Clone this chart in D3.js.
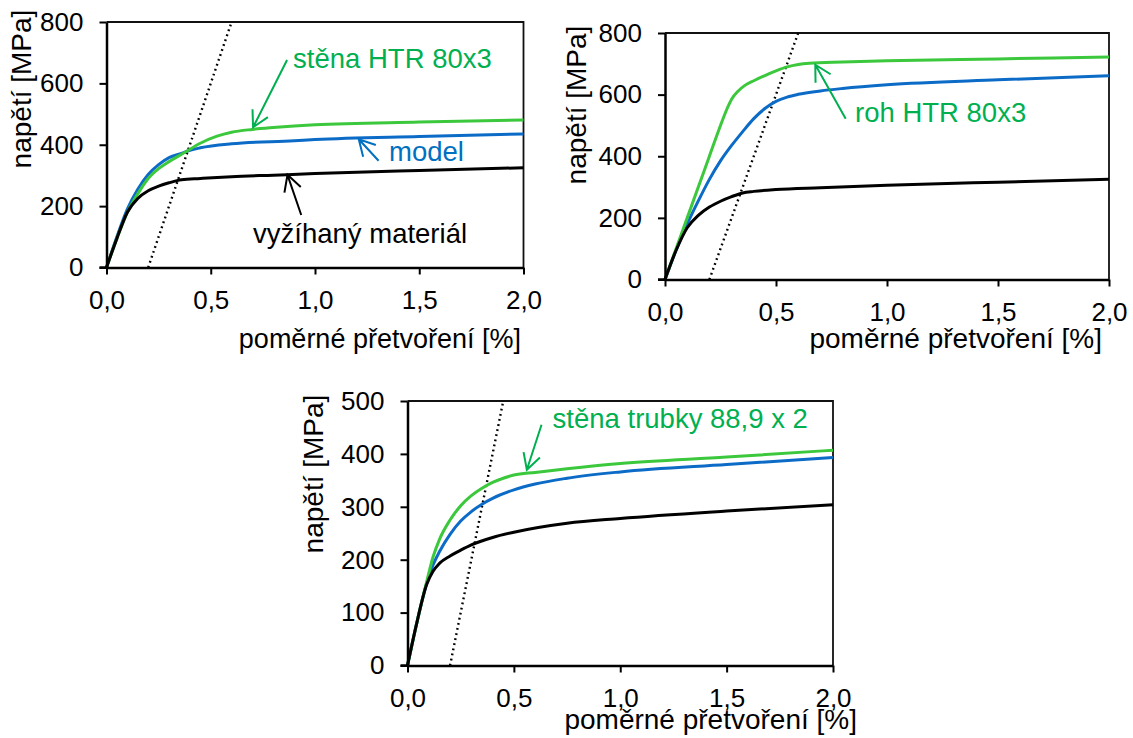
<!DOCTYPE html>
<html>
<head>
<meta charset="utf-8">
<script src="https://cdn.jsdelivr.net/npm/d3@7"></script>
<style>
  html, body { margin: 0; padding: 0; background: #fff; }
  svg { display: block; }
  text { font-family: "Liberation Sans", Arial, Helvetica, sans-serif; fill: #000; }
</style>
</head>
<body>
<svg id="fig" width="1133" height="738"></svg>
<script>
// ---- data -------------------------------------------------------------
// axis ticks
const xTicks = [0, 0.5, 1.0, 1.5, 2.0];
const yTicks800 = [0, 200, 400, 600, 800];
const yTicks500 = [0, 100, 200, 300, 400, 500];

// panel A: stěna HTR 80x3
const strainA_black = [0, 0.05, 0.1, 0.15, 0.2, 0.25, 0.3, 0.36, 0.45, 0.6, 0.8, 1.0, 1.5, 2.0];
const stressA_black = [0, 95, 180, 225, 250, 265, 276, 286, 290, 296, 301, 306, 316, 325];
const strainA_blue  = [0, 0.05, 0.1, 0.15, 0.2, 0.25, 0.3, 0.36, 0.4, 0.45, 0.6, 0.9, 1.0, 1.5, 2.0];
const stressA_blue  = [0, 100, 190, 255, 303, 335, 358, 372, 382, 390, 403, 413, 417, 427, 435];
const strainA_green = [0, 0.05, 0.1, 0.15, 0.2, 0.25, 0.3, 0.37, 0.45, 0.53, 0.6, 0.7, 0.8, 0.9, 1.0, 1.5, 2.0];
const stressA_green = [0, 95, 180, 240, 290, 322, 345, 373, 405, 428, 441, 450, 456, 461, 465, 474, 481];
const offsetA = [[0.2, 0], [0.6, 800]];

// panel B: roh HTR 80x3
const strainB_black = [0, 0.05, 0.1, 0.15, 0.2, 0.25, 0.3, 0.35, 0.4, 0.5, 0.7, 1.0, 1.5, 2.0];
const stressB_black = [0, 95, 168, 208, 235, 254, 269, 281, 286, 292, 298, 306, 316, 325];
const strainB_blue  = [0, 0.05, 0.1, 0.15, 0.2, 0.25, 0.3, 0.35, 0.4, 0.45, 0.5, 0.55, 0.6, 0.7, 0.8, 1.0, 1.5, 2.0];
const stressB_blue  = [0, 95, 180, 255, 325, 385, 435, 480, 522, 555, 578, 592, 601, 612, 620, 632, 648, 661];
const strainB_green = [0, 0.05, 0.1, 0.15, 0.2, 0.25, 0.28, 0.3, 0.33, 0.36, 0.4, 0.45, 0.5, 0.55, 0.6, 0.65, 0.8, 1.0, 1.5, 2.0];
const stressB_green = [0, 100, 200, 300, 400, 500, 555, 585, 612, 630, 645, 662, 677, 690, 698, 702, 706, 710, 716, 722];
const offsetB = [[0.2, 0], [0.6, 800]];

// panel C: stěna trubky 88,9 x 2
const strainC_black = [0, 0.04, 0.09, 0.12, 0.15, 0.2, 0.25, 0.3, 0.4, 0.5, 0.75, 1.0, 1.5, 2.0];
const stressC_black = [0, 74, 153, 178, 193, 207, 218, 228, 242, 252, 269, 278, 292, 304];
const strainC_blue  = [0, 0.04, 0.09, 0.12, 0.15, 0.2, 0.25, 0.3, 0.35, 0.4, 0.5, 0.6, 0.75, 1.0, 1.5, 2.0];
const stressC_blue  = [0, 74, 155, 190, 215, 248, 273, 291, 305, 316, 332, 343, 354, 366, 380, 393];
const strainC_green = [0, 0.04, 0.09, 0.12, 0.15, 0.2, 0.25, 0.3, 0.35, 0.4, 0.45, 0.5, 0.6, 0.75, 1.0, 1.5, 2.0];
const stressC_green = [0, 74, 158, 205, 238, 275, 302, 321, 335, 346, 354, 360, 365, 372, 382, 394, 407];
const offsetC = [[0.2, 0], [0.45, 500]];

// text labels
const xTitle = "poměrné přetvoření [%]";
const yTitle = "napětí [MPa]";

// ---- styles -----------------------------------------------------------
const COL_BLACK = "#000000";
const COL_BLUE = "#0b6bc6";
const COL_GREEN = "#3cc83c";
const COL_NOTE_GREEN = "#00b050";
const COL_NOTE_BLUE = "#0070c0";

const svg = d3.select("#fig");
const fmt = d3.formatLocale({ decimal: ",", thousands: " ", grouping: [3], currency: ["", ""] }).format(".1f");

function zip(xs, ys) { return xs.map((x, i) => [x, ys[i]]); }

function arrow(g, x, y, from, to, color) {
  const x1 = x(from[0]), y1 = y(from[1]), x2 = x(to[0]), y2 = y(to[1]);
  const ang = Math.atan2(y1 - y2, x1 - x2);
  const L = 18, a = 0.5;
  const h1 = [x2 + L * Math.cos(ang + a), y2 + L * Math.sin(ang + a)];
  const h2 = [x2 + L * Math.cos(ang - a), y2 + L * Math.sin(ang - a)];
  g.append("path")
    .attr("d", `M${x1},${y1}L${x2},${y2}M${h1[0]},${h1[1]}L${x2},${y2}L${h2[0]},${h2[1]}`)
    .attr("fill", "none").attr("stroke", color).attr("stroke-width", 2)
    .attr("stroke-linejoin", "miter");
}

function panel(cfg) {
  const x = d3.scaleLinear().domain([0, 2]).range(cfg.xr);
  const y = d3.scaleLinear().domain([0, cfg.ymax]).range(cfg.yr);
  const g = svg.append("g");

  // frame: top and right edges
  g.append("path")
    .attr("d", `M${x(0)},${y(cfg.ymax)}H${x(2)}V${y(0)}`)
    .attr("fill", "none").attr("stroke", "#111").attr("stroke-width", 1.8);

  const line = d3.line().x(d => x(d[0])).y(d => y(d[1])).curve(d3.curveMonotoneX);

  // 0.2 % offset line
  g.append("path").datum(cfg.offset)
    .attr("d", d3.line().x(d => x(d[0])).y(d => y(d[1])))
    .attr("fill", "none").attr("stroke", "#000").attr("stroke-width", 2.4)
    .attr("stroke-dasharray", "1.8,3.4");

  // curves: blue, green, then black on top near the origin
  const series = [
    [cfg.black, COL_BLACK],
    [cfg.blue, COL_BLUE],
    [cfg.green, COL_GREEN]
  ];
  [1, 2, 0].forEach(i => {
    g.append("path").datum(series[i][0])
      .attr("d", line)
      .attr("fill", "none").attr("stroke", series[i][1])
      .attr("stroke-width", 3).attr("stroke-linejoin", "round");
  });

  // axes
  const ax = g.append("g").attr("transform", `translate(0,${y(0)})`)
    .call(d3.axisBottom(x).tickValues(xTicks).tickFormat(fmt)
      .tickSize(7).tickSizeOuter(0).tickPadding(16));
  const ay = g.append("g").attr("transform", `translate(${x(0)},0)`)
    .call(d3.axisLeft(y).tickValues(cfg.yTicks).tickFormat(d3.format("d"))
      .tickSize(7).tickSizeOuter(0).tickPadding(16));
  [ax, ay].forEach(a => {
    a.select(".domain").attr("stroke", "#000").attr("stroke-width", 2.5);
    a.selectAll(".tick line").attr("stroke", "#000").attr("stroke-width", 2);
    a.selectAll(".tick text").attr("fill", "#000")
      .style("font-size", "26px")
      .style("font-family", '"Liberation Sans", Arial, sans-serif');
  });
  // extend bottom axis line to the left end of the zero tick
  g.append("line").attr("x1", x(0) - 7).attr("x2", x(0))
    .attr("y1", y(0)).attr("y2", y(0)).attr("stroke", "#000").attr("stroke-width", 2.5);

  // axis titles
  g.append("text")
    .attr("x", cfg.xTitle[0]).attr("y", cfg.xTitle[1])
    .attr("text-anchor", "end").style("font-size", cfg.xTitleSize || "28px")
    .text(xTitle);
  g.append("text")
    .attr("transform", `translate(${cfg.yTitle[0]},${cfg.yTitle[1]}) rotate(-90)`)
    .attr("text-anchor", "middle").style("font-size", "28px")
    .text(yTitle);

  // annotations
  cfg.notes.forEach(n => {
    arrow(g, x, y, n.from, n.to, n.color);
    g.append("text")
      .attr("x", x(n.at[0])).attr("y", y(n.at[1]))
      .style("font-size", "27.5px").style("fill", n.color)
      .text(n.text);
  });
}

panel({
  xr: [106.5, 523.5], yr: [267.5, 22], ymax: 800, yTicks: yTicks800,
  black: zip(strainA_black, stressA_black),
  blue: zip(strainA_blue, stressA_blue),
  green: zip(strainA_green, stressA_green),
  offset: offsetA,
  xTitle: [521, 348], xTitleSize: "27px", yTitle: [31, 89],
  notes: [
    { text: "stěna HTR 80x3", at: [0.895, 650], from: [0.866, 676], to: [0.703, 457], color: COL_NOTE_GREEN },
    { text: "model", at: [1.355, 346], from: [1.305, 348], to: [1.21, 418], color: COL_NOTE_BLUE },
    { text: "vyžíhaný materiál", at: [0.703, 79], from: [0.934, 171], to: [0.868, 302], color: "#000" }
  ]
});

panel({
  xr: [665, 1109], yr: [279.5, 33], ymax: 800, yTicks: yTicks800,
  black: zip(strainB_black, stressB_black),
  blue: zip(strainB_blue, stressB_blue),
  green: zip(strainB_green, stressB_green),
  offset: offsetB,
  xTitle: [1102, 348], yTitle: [586, 105],
  notes: [
    { text: "roh HTR 80x3", at: [0.856, 511], from: [0.814, 522], to: [0.677, 697], color: COL_NOTE_GREEN }
  ]
});

panel({
  xr: [407.5, 833], yr: [665.5, 401], ymax: 500, yTicks: yTicks500,
  black: zip(strainC_black, stressC_black),
  blue: zip(strainC_blue, stressC_blue),
  green: zip(strainC_green, stressC_green),
  offset: offsetC,
  xTitle: [857, 729], yTitle: [323, 474],
  notes: [
    { text: "stěna trubky 88,9 x 2", at: [0.682, 449], from: [0.63, 455], to: [0.561, 370], color: COL_NOTE_GREEN }
  ]
});
</script>
</body>
</html>
